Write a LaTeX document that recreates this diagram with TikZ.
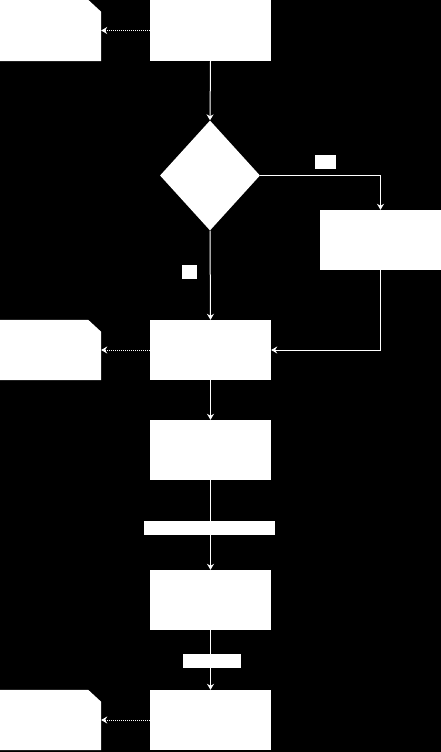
\documentclass[tikz,border=0pt]{standalone}
\usetikzlibrary{arrows.meta,shapes.geometric}
\tikzset{
  box/.style={rectangle,fill=white,draw=none,inner sep=0pt,minimum width=121pt,minimum height=60pt},
  docbox/.style={rectangle,draw=none,inner sep=0pt,minimum width=101pt,minimum height=60pt},
  decision/.style={diamond,fill=white,draw=none,inner sep=0pt,minimum width=100pt,minimum height=110pt},
  lbl/.style={rectangle,fill=white,draw=none,inner sep=0pt,minimum height=14pt},
  conn/.style={draw=white,line width=1pt,-{Stealth[length=6pt,width=7pt,inset=2pt]}},
  dotconn/.style={draw=white,line width=1pt,densely dotted,-{Stealth[length=6pt,width=7pt,inset=2pt]}}
}
\newcommand{\docfill}[1]{\fill[white] (#1.south west) -- (#1.north west) -- ([xshift=-13pt]#1.north east) -- ([yshift=-12pt]#1.north east) -- (#1.south east) -- cycle;}
\begin{document}
\begin{tikzpicture}[x=1pt,y=-1pt]
\fill[black] (0,0) rectangle (441,752);
\useasboundingbox (0,0) rectangle (441,752);
% nodes
\node[box,minimum height=61pt] (A) at (210.5,30.5) {};
\node[docbox,minimum height=61pt] (doc1) at (50.5,30.5) {};
\docfill{doc1}
\node[decision] (dia) at (210,175.5) {};
\node[box] (B) at (380.5,240) {};
\node[box] (C) at (210.5,350) {};
\node[docbox] (doc2) at (50.5,350) {};
\docfill{doc2}
\node[box] (D) at (210.5,450) {};
\node[box] (E) at (210.5,600) {};
\node[box] (F) at (210.5,720) {};
\node[docbox] (doc3) at (50.5,720) {};
\docfill{doc3}
% connectors
\draw[dotconn] (A.west) -- (doc1.east);
\draw[conn] (A.south) -- (dia.north);
\draw[conn] (dia.east) -| (B.north);
\draw[conn] (dia.south) -- (C.north);
\draw[conn] (B.south) |- (C.east);
\draw[dotconn] (C.west) -- (doc2.east);
\draw[conn] (C.south) -- (D.north);
\draw[conn] (D.south) -- (E.north);
\draw[conn] (E.south) -- (F.north);
\draw[dotconn] (F.west) -- (doc3.east);
% labels
\node[lbl,minimum width=21pt] (l1) at (325.5,162) {};
\node[lbl,minimum width=15pt] (l2) at (189.5,272) {};
\node[lbl,minimum width=131pt] (l3) at (209.5,528) {};
\node[lbl,minimum width=58pt] (l4) at (212,661) {};
\end{tikzpicture}
\end{document}
